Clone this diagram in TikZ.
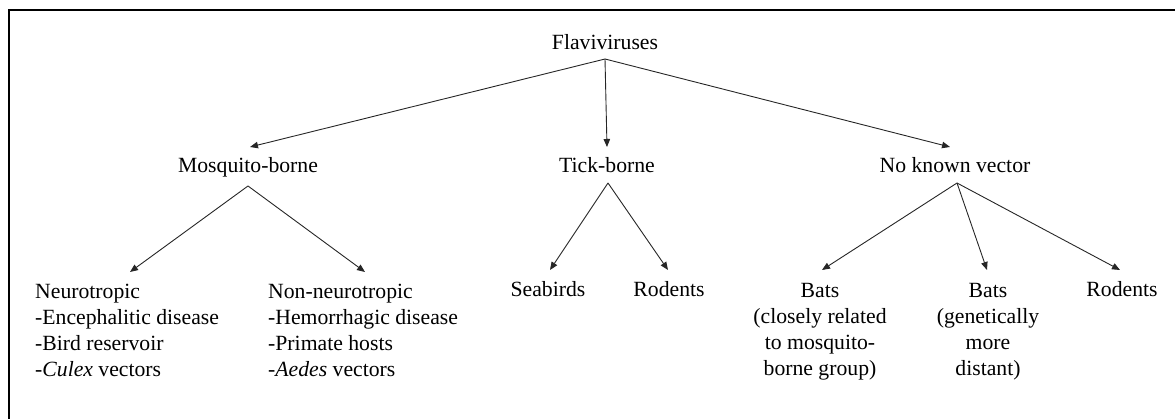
\documentclass[tikz,border=0pt]{standalone}
\usepackage{fontspec}
\setmainfont{Liberation Serif}
\usetikzlibrary{arrows.meta}
\tikzset{
  lbl/.style={inner sep=0pt, font=\fontsize{21.7}{26.3}\selectfont},
  arr/.style={line width=0.9pt, draw=black!85, -{Triangle[length=8pt,width=6.5pt]}},
  frame/.style={line width=2pt}
}
\begin{document}
\begin{tikzpicture}[x=1pt,y=-1pt]
\useasboundingbox (0,0) rectangle (1175,419);
\draw[frame] (1176,10) -- (9,10) -- (9,420);
% nodes (multi-line nodes are anchored at the baseline of their last line)
\node[lbl, anchor=base] (flav) at (605,49.5) {Flaviviruses};
\node[lbl, anchor=base] (mos) at (248,173) {Mosquito-borne};
\node[lbl, anchor=base] (tick) at (607,173) {Tick-borne};
\node[lbl, anchor=base] (nkv) at (955,173) {No known vector};
\node[lbl, anchor=base west, align=left] (neuro) at (35,377) {Neurotropic\\-Encephalitic disease\\-Bird reservoir\\-\textit{Culex} vectors};
\node[lbl, anchor=base west, align=left] (nonneuro) at (268,377) {Non-neurotropic\\-Hemorrhagic disease\\-Primate hosts\\-\textit{Aedes} vectors};
\node[lbl, anchor=base] (seab) at (548,297) {Seabirds};
\node[lbl, anchor=base] (rod1) at (669,297) {Rodents};
\node[lbl, anchor=base, align=center] (bats1) at (820,376) {Bats\\(closely related\\to mosquito-\\borne group)};
\node[lbl, anchor=base, align=center] (bats2) at (988,376) {Bats\\(genetically\\more\\distant)};
\node[lbl, anchor=base] (rod2) at (1122,297) {Rodents};
% connector ends
\coordinate (flavF) at (605,59);
\coordinate (mosT) at (250,147);
\coordinate (tickT) at (607,147);
\coordinate (nkvT) at (950,147);
\coordinate (mosF) at (248,186);
\coordinate (neuroT) at (130,272);
\coordinate (nonneuroT) at (365,272);
\coordinate (tickF) at (608,183);
\coordinate (seabT) at (550,270);
\coordinate (rod1T) at (668,270);
\coordinate (nkvF) at (957,183);
\coordinate (bats1T) at (822,270);
\coordinate (bats2T) at (987,270);
\coordinate (rod2T) at (1120,270);
% connectors
\draw[arr] (flavF) -- (mosT);
\draw[arr] (flavF) -- (tickT);
\draw[arr] (flavF) -- (nkvT);
\draw[arr] (mosF) -- (neuroT);
\draw[arr] (mosF) -- (nonneuroT);
\draw[arr] (tickF) -- (seabT);
\draw[arr] (tickF) -- (rod1T);
\draw[arr] (nkvF) -- (bats1T);
\draw[arr] (nkvF) -- (bats2T);
\draw[arr] (nkvF) -- (rod2T);
\end{tikzpicture}
\end{document}
